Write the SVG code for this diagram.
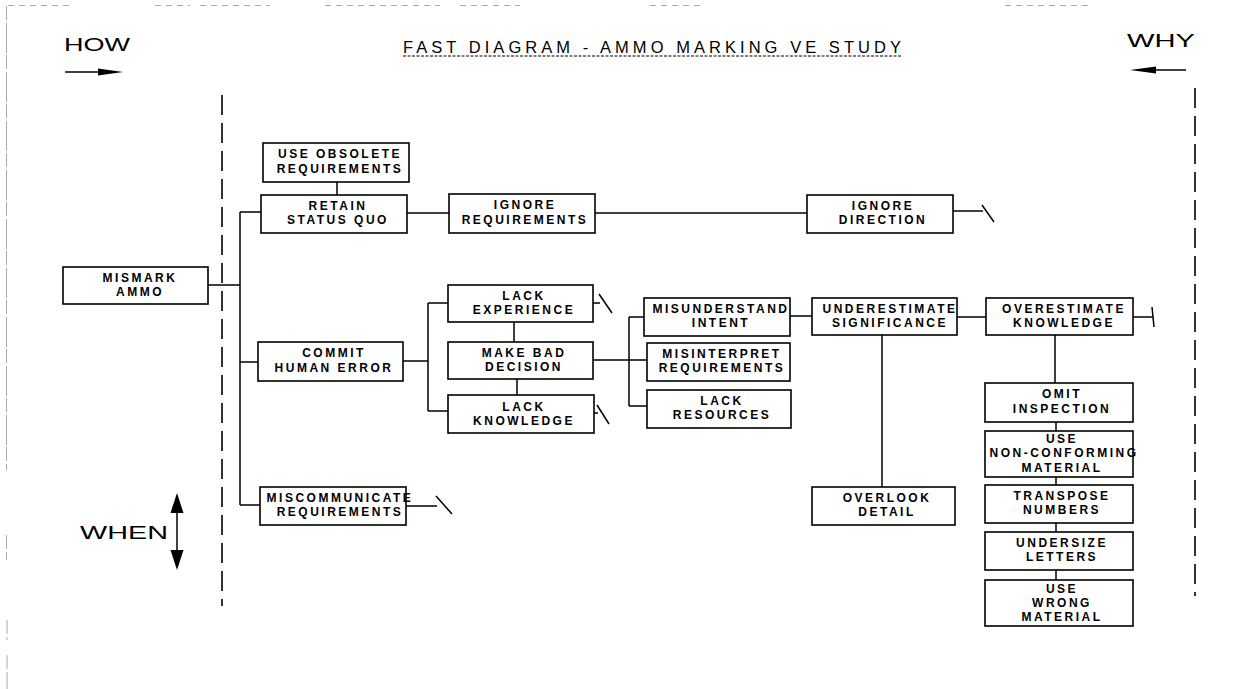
<svg xmlns="http://www.w3.org/2000/svg" width="1233" height="689" viewBox="0 0 1233 689">
<style>
.box{fill:#fff;stroke:#000;stroke-width:1.6}
.t{font-family:"Liberation Sans",Arial,sans-serif;font-weight:bold;font-size:12px;letter-spacing:2.5px;text-anchor:middle;fill:#000}
.big{font-family:"Liberation Sans",Arial,sans-serif;font-size:19px;fill:#000}
.ln{fill:none;stroke:#000;stroke-width:1.5}
.dash{fill:none;stroke:#000;stroke-width:1.6;stroke-dasharray:20 8}
.scan{fill:none;stroke:#aaa;stroke-width:1}
</style>
<rect width="1233" height="689" fill="#fff"/>
<g id="scan-edges">
<path class="scan" d="M6.5,6 V470 M6.5,535 V560 M7,620 V640 M7,655 V689" stroke-dasharray="14 3 30 2"/>
<path class="scan" d="M8,5.5 H70 M155,5.5 H190 M200,5.5 H270 M325,5.5 H440 M460,5.5 H520 M650,5.5 H700 M1005,5.5 H1090" stroke-dasharray="6 5" stroke="#bbb"/>
</g>
<g id="headers">
<text class="big" x="64" y="51" textLength="66" lengthAdjust="spacingAndGlyphs">HOW</text>
<text class="big" x="1127" y="47" textLength="68" lengthAdjust="spacingAndGlyphs">WHY</text>
<text class="big" x="80" y="539" font-size="20" textLength="88" lengthAdjust="spacingAndGlyphs">WHEN</text>
<text x="403" y="53" font-family="Liberation Sans,Arial,sans-serif" font-size="16.5" textLength="498">FAST DIAGRAM - AMMO MARKING VE STUDY</text>
<path d="M403,56 H901" stroke="#000" stroke-width="1" stroke-dasharray="3 1.5"/>
<path class="ln" d="M65,72 H104"/>
<polygon points="98,68.5 123,72 98,75.5"/>
<path class="ln" d="M1150,70 H1186"/>
<polygon points="1156,66.5 1130,70 1156,73.5"/>
<path class="ln" d="M177,510 V553"/>
<polygon points="170.5,513 177,493 183.5,513"/>
<polygon points="170.5,550 177,570 183.5,550"/>
<path class="dash" d="M222,95 V606"/>
<path class="dash" d="M1195,88 V596"/>
</g>
<g id="connectors">
<path class="ln" d="M208,285 H240 M240,212 V505 M240,212 H261 M240,362 H258 M240,505 H260"/>
<path class="ln" d="M337,182 V195 M407,213 H449 M595,213 H807"/>
<path class="ln" d="M953,211 H983 M982,205 L994,222"/>
<path class="ln" d="M403,361 H428 M428,303 V411 M428,303 H448 M428,411 H448"/>
<path class="ln" d="M514,322 V342 M517,379 V395"/>
<path class="ln" d="M593,303 H600 M599,294 L612,313"/>
<path class="ln" d="M594,413 H598 M597,405 L609,424"/>
<path class="ln" d="M593,360 H647 M629,317 V406 M629,317 H644 M629,406 H647"/>
<path class="ln" d="M790,316 H812 M957,317 H986"/>
<path class="ln" d="M1133,317 H1153 M1152,307 L1154,327"/>
<path class="ln" d="M882,335 V487 M1055,335 V383"/>
<path class="ln" d="M1056,422 V431 M1056,477 V485 M1056,523 V532 M1056,570 V580"/>
<path class="ln" d="M406,506 H437 M436,496 L452,514"/>
</g>
<g id="use-obsolete"><rect class="box" x="263" y="143" width="146" height="39"/><text class="t" x="340" y="158">USE OBSOLETE</text><text class="t" x="340" y="173">REQUIREMENTS</text></g>
<g id="retain"><rect class="box" x="261" y="195" width="146" height="38"/><text class="t" x="338" y="210">RETAIN</text><text class="t" x="338" y="224">STATUS QUO</text></g>
<g id="mismark"><rect class="box" x="63" y="267" width="145" height="37"/><text class="t" x="140" y="282">MISMARK</text><text class="t" x="140" y="296">AMMO</text></g>
<g id="ignore-req"><rect class="box" x="449" y="194" width="146" height="39"/><text class="t" x="525" y="209">IGNORE</text><text class="t" x="525" y="224">REQUIREMENTS</text></g>
<g id="ignore-dir"><rect class="box" x="807" y="195" width="146" height="38"/><text class="t" x="883" y="210">IGNORE</text><text class="t" x="883" y="224">DIRECTION</text></g>
<g id="commit"><rect class="box" x="258" y="342" width="145" height="39"/><text class="t" x="334" y="357">COMMIT</text><text class="t" x="334" y="372">HUMAN ERROR</text></g>
<g id="lack-exp"><rect class="box" x="448" y="285" width="145" height="37"/><text class="t" x="524" y="300">LACK</text><text class="t" x="524" y="314">EXPERIENCE</text></g>
<g id="make-bad"><rect class="box" x="448" y="342" width="145" height="37"/><text class="t" x="524" y="357">MAKE BAD</text><text class="t" x="524" y="371">DECISION</text></g>
<g id="lack-know"><rect class="box" x="448" y="395" width="146" height="38"/><text class="t" x="524" y="411">LACK</text><text class="t" x="524" y="425">KNOWLEDGE</text></g>
<g id="misunderstand"><rect class="box" x="644" y="298" width="146" height="38"/><text class="t" x="721" y="313">MISUNDERSTAND</text><text class="t" x="721" y="327">INTENT</text></g>
<g id="misinterpret"><rect class="box" x="647" y="343" width="143" height="38"/><text class="t" x="722" y="358">MISINTERPRET</text><text class="t" x="722" y="372">REQUIREMENTS</text></g>
<g id="lack-res"><rect class="box" x="647" y="390" width="144" height="38"/><text class="t" x="722" y="405">LACK</text><text class="t" x="722" y="419">RESOURCES</text></g>
<g id="underestimate"><rect class="box" x="812" y="298" width="145" height="37"/><text class="t" x="890" y="313">UNDERESTIMATE</text><text class="t" x="890" y="327">SIGNIFICANCE</text></g>
<g id="overestimate"><rect class="box" x="986" y="298" width="147" height="37"/><text class="t" x="1064" y="313">OVERESTIMATE</text><text class="t" x="1064" y="327">KNOWLEDGE</text></g>
<g id="overlook"><rect class="box" x="812" y="487" width="143" height="38"/><text class="t" x="887" y="502">OVERLOOK</text><text class="t" x="887" y="516">DETAIL</text></g>
<g id="omit"><rect class="box" x="985" y="383" width="148" height="39"/><text class="t" x="1062" y="398">OMIT</text><text class="t" x="1062" y="413">INSPECTION</text></g>
<g id="use-nc"><rect class="box" x="985" y="431" width="148" height="46"/><text class="t" x="1062" y="443">USE</text><text class="t" x="1064" y="457">NON-CONFORMING</text><text class="t" x="1062" y="472">MATERIAL</text></g>
<g id="transpose"><rect class="box" x="985" y="485" width="148" height="38"/><text class="t" x="1062" y="500">TRANSPOSE</text><text class="t" x="1062" y="514">NUMBERS</text></g>
<g id="undersize"><rect class="box" x="985" y="532" width="148" height="38"/><text class="t" x="1062" y="547">UNDERSIZE</text><text class="t" x="1062" y="561">LETTERS</text></g>
<g id="wrong"><rect class="box" x="985" y="580" width="148" height="46"/><text class="t" x="1062" y="593">USE</text><text class="t" x="1062" y="607">WRONG</text><text class="t" x="1062" y="621">MATERIAL</text></g>
<g id="miscomm"><rect class="box" x="260" y="487" width="146" height="38"/><text class="t" x="340" y="502">MISCOMMUNICATE</text><text class="t" x="340" y="516">REQUIREMENTS</text></g>
</svg>
